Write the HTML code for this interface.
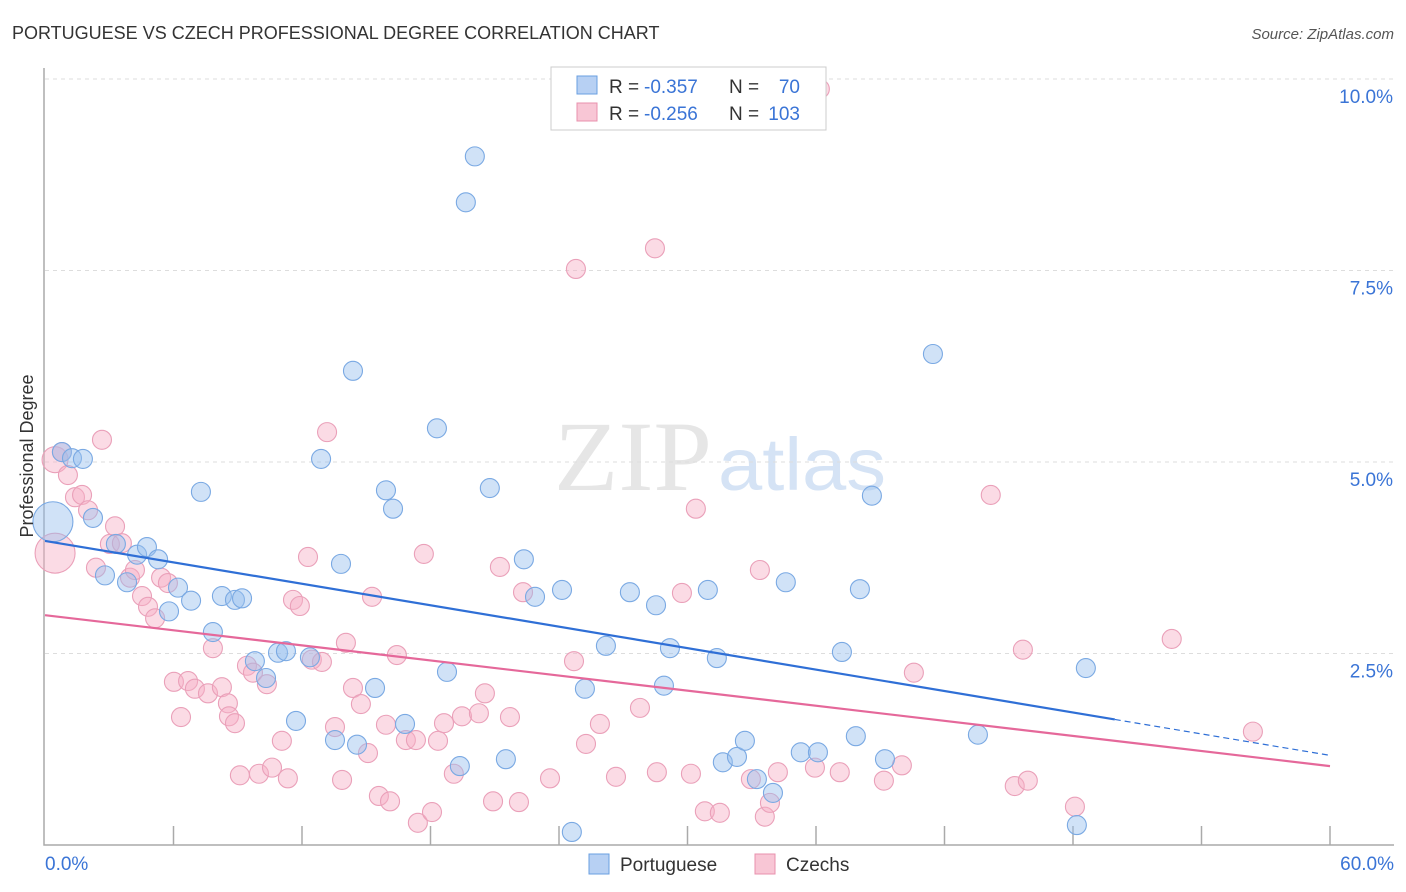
<!DOCTYPE html>
<html><head><meta charset="utf-8"><style>
body{margin:0;background:#fff;font-family:"Liberation Sans",sans-serif;}
svg{display:block}
</style></head><body>
<svg id="chart" width="1406" height="892" xmlns="http://www.w3.org/2000/svg">
<text x="12" y="39" font-size="18" fill="#333">PORTUGUESE VS CZECH PROFESSIONAL DEGREE CORRELATION CHART</text>
<text x="1394" y="39" font-size="15" fill="#555" text-anchor="end" font-style="italic">Source: ZipAtlas.com</text>
<text x="554" y="490" font-size="100" fill="#e6e6e6" font-family="Liberation Serif" textLength="158" lengthAdjust="spacingAndGlyphs">ZIP</text>
<text x="718" y="490" font-size="74" fill="#d5e3f5" textLength="168" lengthAdjust="spacingAndGlyphs">atlas</text>
<g id="grid"></g>
<g id="axes"></g>
<g id="pts"></g>
<g id="trends"></g>
<text transform="translate(33,456) rotate(-90)" font-size="18" fill="#333" text-anchor="middle">Professional Degree</text>
<g>
<rect x="551" y="67" width="275" height="63" fill="#fff" stroke="#ccc"/>
<rect x="577" y="76" width="20" height="18" fill="#b7d0f3" stroke="#6a9fe0"/>
<rect x="577" y="103" width="20" height="18" fill="#f8c6d5" stroke="#e890ad"/>
<text x="609" y="93" font-size="19" fill="#333">R =</text>
<text x="644" y="93" font-size="19" fill="#3a74d6">-0.357</text>
<text x="729" y="93" font-size="19" fill="#333">N =</text>
<text x="800" y="93" font-size="19" fill="#3a74d6" text-anchor="end">70</text>
<text x="609" y="120" font-size="19" fill="#333">R =</text>
<text x="644" y="120" font-size="19" fill="#3a74d6">-0.256</text>
<text x="729" y="120" font-size="19" fill="#333">N =</text>
<text x="800" y="120" font-size="19" fill="#3a74d6" text-anchor="end">103</text>
</g>
<g>
<rect x="589" y="854" width="20" height="20" fill="#b7d0f3" stroke="#6a9fe0"/>
<text x="620" y="871" font-size="19" fill="#333">Portuguese</text>
<rect x="755" y="854" width="20" height="20" fill="#f8c6d5" stroke="#e890ad"/>
<text x="786" y="871" font-size="19" fill="#333">Czechs</text>
</g>
</svg>
<script>
const xTicks=[0,6,12,18,24,30,36,42,48,54,60];
const yTicks=[2.5,5,7.5,10];
const yTickLabels=["2.5%","5.0%","7.5%","10.0%"];
const bx=[0.37,0.79,1.26,1.77,2.24,2.80,3.31,3.83,4.30,4.76,5.28,5.79,6.21,6.82,7.28,7.84,8.26,8.87,9.20,9.80,10.32,10.88,11.25,11.72,12.37,12.89,13.54,13.82,14.38,14.57,15.41,15.92,16.25,16.81,18.30,18.77,19.37,19.65,20.07,20.77,21.52,22.36,22.88,24.14,24.60,25.21,26.19,27.31,28.53,28.90,29.18,30.95,31.37,31.65,32.31,32.68,33.24,33.99,34.59,35.29,36.09,37.21,37.86,38.05,38.61,39.22,41.46,43.56,48.18,48.60];
const by=[4.22,5.13,5.05,5.04,4.27,3.52,3.93,3.43,3.79,3.89,3.73,3.05,3.36,3.19,4.61,2.78,3.25,3.20,3.22,2.40,2.18,2.51,2.53,1.62,2.45,5.04,1.37,3.67,6.19,1.31,2.05,4.63,4.39,1.58,5.44,2.26,1.03,8.39,8.99,4.66,1.12,3.73,3.24,3.33,0.17,2.04,2.60,3.30,3.13,2.08,2.57,3.33,2.44,1.08,1.15,1.36,0.86,0.68,3.43,1.21,1.21,2.52,1.42,3.34,4.56,1.12,6.41,1.44,0.26,2.31];
const px=[0.47,0.47,0.79,1.07,1.40,1.73,2.01,2.38,2.66,3.03,3.27,3.59,3.97,4.20,4.53,4.81,5.14,5.42,5.74,6.02,6.35,6.68,7.00,7.61,7.84,8.26,8.54,8.59,8.87,9.10,9.43,9.71,9.99,10.36,10.60,11.06,11.34,11.58,11.90,12.28,12.46,12.93,13.17,13.54,13.87,14.05,14.38,14.75,15.08,15.27,15.59,15.92,16.11,16.43,16.85,17.32,17.69,17.41,18.07,18.35,18.63,19.09,19.47,20.26,20.54,20.92,21.24,21.71,22.13,22.32,23.58,24.70,24.79,25.26,25.91,26.66,27.78,28.48,28.57,29.74,30.16,30.39,30.81,31.51,32.96,33.38,33.61,33.85,34.22,35.95,36.18,37.11,39.17,40.01,40.57,44.16,45.28,45.89,45.66,48.09,52.61,56.40];
const py=[3.81,5.03,5.13,4.83,4.54,4.57,4.37,3.62,5.29,3.93,4.16,3.94,3.49,3.59,3.25,3.11,2.96,3.49,3.42,2.13,1.67,2.14,2.04,1.98,2.57,2.06,1.85,1.68,1.59,0.91,2.34,2.25,0.93,2.10,1.01,1.36,0.87,3.20,3.12,3.76,2.42,2.39,5.39,1.54,0.85,2.64,2.05,1.84,1.20,3.24,0.64,1.57,0.57,2.48,1.37,1.37,3.80,0.29,0.43,1.36,1.59,0.93,1.68,1.72,1.98,0.57,3.63,1.67,0.56,3.30,0.87,2.40,7.52,1.32,1.58,0.89,1.79,7.79,0.95,3.29,0.93,4.39,0.44,0.42,0.86,3.59,0.37,0.55,0.95,1.01,9.87,0.95,0.84,1.04,2.25,4.57,0.77,0.84,2.55,0.50,2.69,1.48];
const blueTrend=[3.97,1.17]; const blueSolidEnd=49.95;
const pinkTrend=[3.00,1.03];
const X=v=>45+v/60*1285, Y=v=>845-v*76.6;
const NS="http://www.w3.org/2000/svg";
function mk(tag,parent,attrs){const e=document.createElementNS(NS,tag);for(const k in attrs)e.setAttribute(k,attrs[k]);document.getElementById(parent).appendChild(e);return e;}
yTicks.forEach((t,i)=>{
 const l=mk('line','grid',{x1:45,x2:1394,y1:Y(t),y2:Y(t),stroke:'#ddd','stroke-dasharray':'4,4'});
 
 
 const tx=mk('text','grid',{x:1393,y:Y(t)+24,'font-size':19,fill:'#3a74d6','text-anchor':'end'});
 tx.textContent=yTickLabels[i];
 
 
});
const ax=mk('path','axes',{d:`M44 68 V845 H1394`,stroke:'#aaa',fill:'none','stroke-width':1.5});


xTicks.forEach(t=>{if(t===0)return;
 const l=mk('line','axes',{x1:X(t),x2:X(t),y1:826,y2:845,stroke:'#aaa','stroke-width':1.5});
 
 });
const x0=mk('text','axes',{x:45,y:870,'font-size':19,fill:'#3a74d6'});x0.textContent='0.0%';


const x1=mk('text','axes',{x:1394,y:870,'font-size':19,fill:'#3a74d6','text-anchor':'end'});x1.textContent='60.0%';


function dots(xs,ys,fill,stroke,name,big){
 xs.forEach((v,i)=>{const r=big[i]||9.5;
  const c=mk('circle','pts',{cx:X(v),cy:Y(ys[i]),r:r,fill:fill,stroke:stroke,'stroke-width':1.1});
  
  });
}
dots(px,py,'rgba(246,176,198,0.45)','#eaa0b9','czech-point',{0:20,1:13});
dots(bx,by,'rgba(150,190,238,0.45)','#7aa9e3','portuguese-point',{0:20});
const bl=mk('line','trends',{x1:X(0),y1:Y(blueTrend[0]),x2:X(blueSolidEnd),y2:Y(blueTrend[0]+(blueTrend[1]-blueTrend[0])*blueSolidEnd/60),stroke:'#2f6fd6','stroke-width':2.2});


const bd=mk('line','trends',{x1:X(blueSolidEnd),y1:Y(blueTrend[0]+(blueTrend[1]-blueTrend[0])*blueSolidEnd/60),x2:X(60),y2:Y(blueTrend[1]),stroke:'#2f6fd6','stroke-width':1.2,'stroke-dasharray':'6,4'});


const pl=mk('line','trends',{x1:X(0),y1:Y(pinkTrend[0]),x2:X(60),y2:Y(pinkTrend[1]),stroke:'#e5689a','stroke-width':2.2});


</script>
</body></html>
